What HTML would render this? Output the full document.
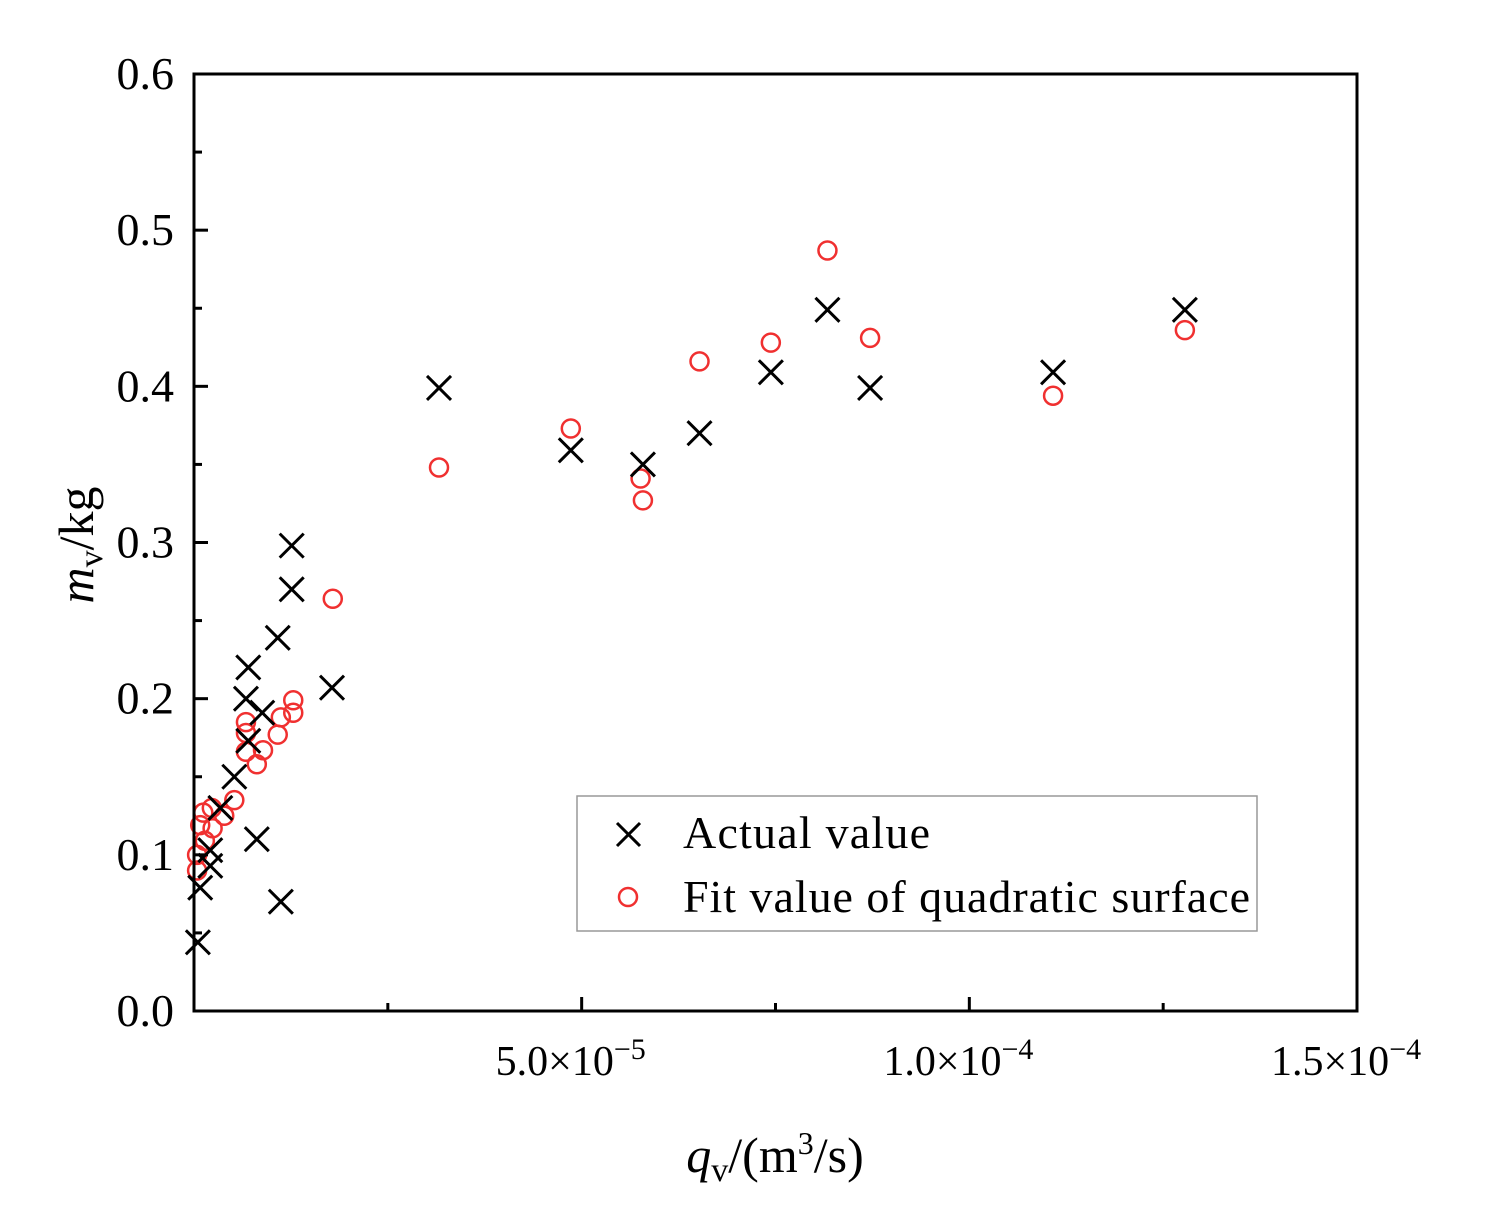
<!DOCTYPE html>
<html><head><meta charset="utf-8"><style>
body{margin:0;background:#fff}
svg{display:block;font-family:"Liberation Serif",serif}
</style></head><body>
<svg id="chart" width="1487" height="1227" viewBox="0 0 1487 1227">
<g id="marks"></g>
<g id="axes"></g>
</svg>
<script>
const actualX=[12.6,12.6,10.8,7.0,17.8,6.7,8.8,7.0,5.2,3.4,8.1,2.1,2.1,0.8,11.2,0.5,31.6,48.6,57.9,65.2,74.4,81.7,87.2,110.8,127.8];
const actualY=[0.298,0.270,0.239,0.220,0.207,0.200,0.191,0.173,0.150,0.130,0.110,0.103,0.093,0.079,0.070,0.044,0.399,0.359,0.350,0.370,0.409,0.449,0.399,0.409,0.449];
const fitX=[17.9,12.8,12.8,11.2,10.8,6.7,6.7,6.7,8.1,8.9,5.2,3.9,2.4,2.3,1.2,0.8,1.4,0.4,0.4,31.6,48.6,57.6,57.9,65.2,74.4,81.7,87.2,110.8,127.8];
const fitY=[0.264,0.199,0.191,0.188,0.177,0.185,0.178,0.166,0.158,0.167,0.135,0.125,0.117,0.130,0.127,0.119,0.109,0.100,0.090,0.348,0.373,0.341,0.327,0.416,0.428,0.487,0.431,0.394,0.436];
const yTicks=[0,0.1,0.2,0.3,0.4,0.5,0.6];
const yTickLabels=["0.0","0.1","0.2","0.3","0.4","0.5","0.6"];
const xTicks=[50,100,150];
const xTickLabels=["5.0","1.0","1.5"];
const xTickExp=["−5","−4","−4"];

const L=194,R=1357,T=74,B=1011;
const sx=v=>L+(v/150)*(R-L);
const sy=v=>B-(v/0.6)*(B-T);
const NS="http://www.w3.org/2000/svg";
function mk(tag,attrs,parent){const e=document.createElementNS(NS,tag);for(const k in attrs)e.setAttribute(k,attrs[k]);parent.appendChild(e);return e;}
const marks=document.getElementById('marks'),axes=document.getElementById('axes');
function cross(cx,cy,s,parent){
  const g=mk('g',{},parent);
  mk('path',{d:`M${cx-s} ${cy-s}L${cx+s} ${cy+s}M${cx+s} ${cy-s}L${cx-s} ${cy+s}`,stroke:'#000','stroke-width':3,fill:'none'},g);
  return g;
}
for(let i=0;i<fitX.length;i++){
  const c=mk('circle',{cx:sx(fitX[i]),cy:sy(fitY[i]),r:9,fill:'none',stroke:'#f03030','stroke-width':2.5},marks);
  
  
}
for(let i=0;i<actualX.length;i++){
  const g=cross(sx(actualX[i]),sy(actualY[i]),12,marks);
  
  
}
const fr=mk('rect',{x:L,y:T,width:R-L,height:B-T,fill:'none',stroke:'#000','stroke-width':3},axes);


for(let i=0;i<yTicks.length;i++){
  const y=sy(yTicks[i]);
  mk('line',{x1:L,x2:L+14,y1:y,y2:y,stroke:'#000','stroke-width':3},axes);
  if(i<yTicks.length-1){const ym=sy(yTicks[i]+0.05);mk('line',{x1:L,x2:L+8,y1:ym,y2:ym,stroke:'#000','stroke-width':3},axes);}
  const t=mk('text',{x:174,y:y+15,'text-anchor':'end','font-size':46},axes);
  t.textContent=yTickLabels[i];
  
  
}
for(let i=0;i<xTicks.length;i++){
  const x=sx(xTicks[i]);
  mk('line',{x1:x,x2:x,y1:B,y2:B-14,stroke:'#000','stroke-width':3},axes);
  const xm=sx(xTicks[i]-25);
  mk('line',{x1:xm,x2:xm,y1:B,y2:B-8,stroke:'#000','stroke-width':3},axes);
  const t=mk('text',{x:x-86,y:1075,'font-size':42},axes);
  
  
  t.innerHTML=xTickLabels[i]+'×10<tspan dy="-16" font-size="30">'+xTickExp[i]+'</tspan>';
}
</script>
<svg width="1487" height="1227" style="position:absolute;left:0;top:0" font-family="Liberation Serif, serif">
<g>
<rect x="577" y="796" width="680" height="135" fill="#fff" stroke="#999" stroke-width="1.5"/>
<path d="M617 823L640 846M640 823L617 846" stroke="#000" stroke-width="3"/>
<text x="683" y="848" font-size="46" textLength="247">Actual value</text>
<circle cx="628" cy="897" r="9" fill="none" stroke="#f03030" stroke-width="2.5"/>
<text x="683" y="912" font-size="46" textLength="567">Fit value of quadratic surface</text>
</g>
<text transform="translate(93,545) rotate(-90)" text-anchor="middle" font-size="50"><tspan font-style="italic">m</tspan><tspan font-size="34" dy="9">v</tspan><tspan dy="-9">/kg</tspan></text>
<text x="775" y="1172" text-anchor="middle" font-size="50"><tspan font-style="italic">q</tspan><tspan font-size="34" dy="9">v</tspan><tspan dy="-9">/(m</tspan><tspan font-size="32" dy="-18">3</tspan><tspan dy="18">/s)</tspan></text>
</svg>
</body></html>
